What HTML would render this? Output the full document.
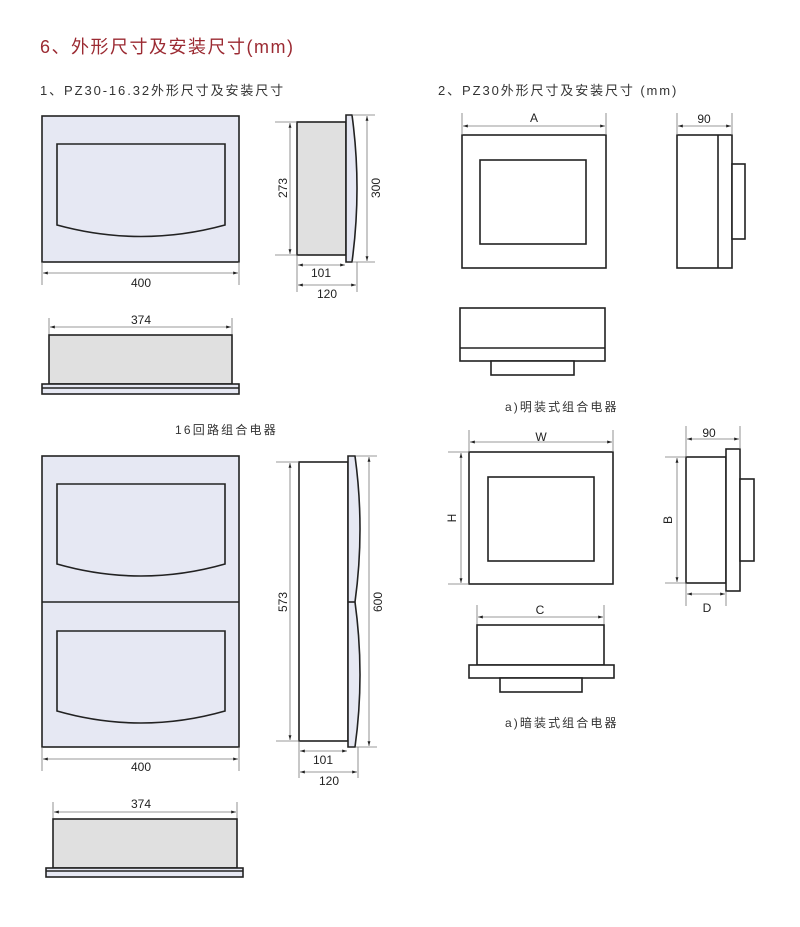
<!DOCTYPE html>
<html><head><meta charset="utf-8"><style>
html,body{margin:0;padding:0;background:#fff;width:800px;height:927px;overflow:hidden}
svg{display:block}
.t{font-family:"Liberation Sans","Noto Sans CJK SC",sans-serif;fill:#222}
.d{font-family:"Liberation Sans",sans-serif;font-size:12px;fill:#222;text-anchor:middle}
.dl{stroke:#777;stroke-width:0.8;fill:none}
.o{stroke:#222;stroke-width:1.6}
</style></head><body>
<svg width="800" height="927" viewBox="0 0 800 927" xmlns="http://www.w3.org/2000/svg">
<defs>
<marker id="a" viewBox="0 0 10 10" refX="10" refY="5" markerWidth="6" markerHeight="6" orient="auto-start-reverse"><path d="M0,2 L10,5 L0,8 z" fill="#222"/></marker>
</defs>
<text x="40" y="53" class="t" style="font-size:18px;fill:#9b2a32;letter-spacing:1.5px">6、外形尺寸及安装尺寸(mm)</text>
<text x="40" y="95" class="t" style="font-size:13px;fill:#333;letter-spacing:1.9px">1、PZ30-16.32外形尺寸及安装尺寸</text>
<text x="438" y="95" class="t" style="font-size:13px;fill:#333;letter-spacing:1.9px">2、PZ30外形尺寸及安装尺寸 (mm)</text>
<text x="175" y="434" class="t" style="font-size:12px;fill:#333;letter-spacing:2.2px">16回路组合电器</text>
<text x="505" y="411" class="t" style="font-size:12px;fill:#333;letter-spacing:2.1px">a)明装式组合电器</text>
<text x="505" y="727" class="t" style="font-size:12px;fill:#333;letter-spacing:2.1px">a)暗装式组合电器</text>

<!-- Set 1 front -->
<rect x="42" y="116" width="197" height="146" fill="#e6e8f3" class="o"/>
<path d="M57,144 H225 V225 Q141,248 57,225 Z" fill="#e6e8f3" class="o"/>
<line x1="42" y1="262" x2="42" y2="285" class="dl"/><line x1="239" y1="262" x2="239" y2="285" class="dl"/>
<line x1="43" y1="273" x2="238" y2="273" class="dl" marker-start="url(#a)" marker-end="url(#a)"/>
<text x="141" y="287" class="d">400</text>
<!-- Set 1 side -->
<rect x="297" y="122" width="49" height="133" fill="#e0e0e0" class="o"/>
<path d="M346,115 H352 Q362,188 352,262 H346 Z" fill="#e6e8f3" class="o"/>
<line x1="275" y1="122" x2="297" y2="122" class="dl"/><line x1="275" y1="255" x2="297" y2="255" class="dl"/>
<line x1="290" y1="123" x2="290" y2="254" class="dl" marker-start="url(#a)" marker-end="url(#a)"/>
<text transform="translate(287,188) rotate(-90)" class="d">273</text>
<line x1="352" y1="115" x2="375" y2="115" class="dl"/><line x1="352" y1="262" x2="375" y2="262" class="dl"/>
<line x1="367" y1="116" x2="367" y2="261" class="dl" marker-start="url(#a)" marker-end="url(#a)"/>
<text transform="translate(380,188) rotate(-90)" class="d">300</text>
<line x1="297" y1="255" x2="297" y2="292" class="dl"/><line x1="357" y1="262" x2="357" y2="292" class="dl"/>
<line x1="298" y1="265" x2="345" y2="265" class="dl" marker-start="url(#a)" marker-end="url(#a)"/>
<text x="321" y="277" class="d">101</text>
<line x1="298" y1="285" x2="356" y2="285" class="dl" marker-start="url(#a)" marker-end="url(#a)"/>
<text x="327" y="298" class="d">120</text>
<!-- Set 1 top -->
<line x1="49" y1="318" x2="49" y2="335" class="dl"/><line x1="232" y1="318" x2="232" y2="335" class="dl"/>
<line x1="50" y1="327" x2="231" y2="327" class="dl" marker-start="url(#a)" marker-end="url(#a)"/>
<text x="141" y="324" class="d">374</text>
<rect x="49" y="335" width="183" height="49" fill="#e0e0e0" class="o"/>
<rect x="42" y="384" width="197" height="10" fill="#e6e8f3" class="o"/>
<line x1="42" y1="388" x2="239" y2="388" class="o"/>

<!-- Set 2 front -->
<rect x="42" y="456" width="197" height="291" fill="#e6e8f3" class="o"/>
<line x1="42" y1="602" x2="239" y2="602" class="o"/>
<path d="M57,484 H225 V564 Q141,588 57,564 Z" fill="#e6e8f3" class="o"/>
<path d="M57,631 H225 V711 Q141,735 57,711 Z" fill="#e6e8f3" class="o"/>
<line x1="42" y1="747" x2="42" y2="771" class="dl"/><line x1="239" y1="747" x2="239" y2="771" class="dl"/>
<line x1="43" y1="759" x2="238" y2="759" class="dl" marker-start="url(#a)" marker-end="url(#a)"/>
<text x="141" y="771" class="d">400</text>
<!-- Set 2 side -->
<rect x="299" y="462" width="49" height="279" fill="#fff" class="o"/>
<path d="M348,456 H355 Q365,529 355,602 Q365,675 355,747 H348 Z" fill="#e6e8f3" class="o"/>
<line x1="348" y1="602" x2="355" y2="602" class="o"/>
<line x1="276" y1="462" x2="299" y2="462" class="dl"/><line x1="276" y1="741" x2="299" y2="741" class="dl"/>
<line x1="290" y1="463" x2="290" y2="740" class="dl" marker-start="url(#a)" marker-end="url(#a)"/>
<text transform="translate(287,602) rotate(-90)" class="d">573</text>
<line x1="356" y1="456" x2="377" y2="456" class="dl"/><line x1="356" y1="747" x2="377" y2="747" class="dl"/>
<line x1="369" y1="457" x2="369" y2="746" class="dl" marker-start="url(#a)" marker-end="url(#a)"/>
<text transform="translate(382,602) rotate(-90)" class="d">600</text>
<line x1="299" y1="741" x2="299" y2="778" class="dl"/><line x1="358" y1="747" x2="358" y2="778" class="dl"/>
<line x1="300" y1="751" x2="347" y2="751" class="dl" marker-start="url(#a)" marker-end="url(#a)"/>
<text x="323" y="764" class="d">101</text>
<line x1="300" y1="772" x2="357" y2="772" class="dl" marker-start="url(#a)" marker-end="url(#a)"/>
<text x="329" y="785" class="d">120</text>
<!-- Set 2 top -->
<line x1="53" y1="802" x2="53" y2="819" class="dl"/><line x1="237" y1="802" x2="237" y2="819" class="dl"/>
<line x1="54" y1="812" x2="236" y2="812" class="dl" marker-start="url(#a)" marker-end="url(#a)"/>
<text x="141" y="808" class="d">374</text>
<rect x="53" y="819" width="184" height="49" fill="#e0e0e0" class="o"/>
<rect x="46" y="868" width="197" height="9" fill="#e6e8f3" class="o"/>
<line x1="46" y1="871" x2="243" y2="871" class="o"/>

<!-- Right: surface mount -->
<rect x="462" y="135" width="144" height="133" fill="#fff" class="o"/>
<rect x="480" y="160" width="106" height="84" fill="#fff" class="o"/>
<line x1="462" y1="113" x2="462" y2="135" class="dl"/><line x1="606" y1="113" x2="606" y2="135" class="dl"/>
<line x1="463" y1="126" x2="605" y2="126" class="dl" marker-start="url(#a)" marker-end="url(#a)"/>
<text x="534" y="122" class="d">A</text>
<rect x="677" y="135" width="55" height="133" fill="#fff" class="o"/>
<line x1="718" y1="135" x2="718" y2="268" class="o"/>
<rect x="732" y="164" width="13" height="75" fill="#fff" class="o"/>
<line x1="677" y1="113" x2="677" y2="135" class="dl"/><line x1="732" y1="113" x2="732" y2="135" class="dl"/>
<line x1="678" y1="126" x2="731" y2="126" class="dl" marker-start="url(#a)" marker-end="url(#a)"/>
<text x="704" y="123" class="d">90</text>
<rect x="460" y="308" width="145" height="53" fill="#fff" class="o"/>
<line x1="460" y1="348" x2="605" y2="348" class="o"/>
<rect x="491" y="361" width="83" height="14" fill="#fff" class="o"/>

<!-- Right: flush mount -->
<rect x="469" y="452" width="144" height="132" fill="#fff" class="o"/>
<rect x="488" y="477" width="106" height="84" fill="#fff" class="o"/>
<line x1="469" y1="430" x2="469" y2="452" class="dl"/><line x1="613" y1="430" x2="613" y2="452" class="dl"/>
<line x1="470" y1="442" x2="612" y2="442" class="dl" marker-start="url(#a)" marker-end="url(#a)"/>
<text x="541" y="441" class="d">W</text>
<line x1="448" y1="452" x2="469" y2="452" class="dl"/><line x1="448" y1="584" x2="469" y2="584" class="dl"/>
<line x1="461" y1="453" x2="461" y2="583" class="dl" marker-start="url(#a)" marker-end="url(#a)"/>
<text transform="translate(456,518) rotate(-90)" class="d">H</text>
<rect x="686" y="457" width="40" height="126" fill="#fff" class="o"/>
<rect x="726" y="449" width="14" height="142" fill="#fff" class="o"/>
<rect x="740" y="479" width="14" height="82" fill="#fff" class="o"/>
<line x1="686" y1="426" x2="686" y2="457" class="dl"/><line x1="740" y1="426" x2="740" y2="449" class="dl"/>
<line x1="687" y1="439" x2="739" y2="439" class="dl" marker-start="url(#a)" marker-end="url(#a)"/>
<text x="709" y="437" class="d">90</text>
<line x1="665" y1="457" x2="686" y2="457" class="dl"/><line x1="665" y1="583" x2="686" y2="583" class="dl"/>
<line x1="677" y1="458" x2="677" y2="582" class="dl" marker-start="url(#a)" marker-end="url(#a)"/>
<text transform="translate(672,520) rotate(-90)" class="d">B</text>
<line x1="686" y1="583" x2="686" y2="606" class="dl"/><line x1="726" y1="591" x2="726" y2="606" class="dl"/>
<line x1="687" y1="594" x2="725" y2="594" class="dl" marker-start="url(#a)" marker-end="url(#a)"/>
<text x="707" y="612" class="d">D</text>
<line x1="477" y1="605" x2="477" y2="625" class="dl"/><line x1="604" y1="605" x2="604" y2="625" class="dl"/>
<line x1="478" y1="617" x2="603" y2="617" class="dl" marker-start="url(#a)" marker-end="url(#a)"/>
<text x="540" y="614" class="d">C</text>
<rect x="477" y="625" width="127" height="40" fill="#fff" class="o"/>
<rect x="469" y="665" width="145" height="13" fill="#fff" class="o"/>
<rect x="500" y="678" width="82" height="14" fill="#fff" class="o"/>
</svg>
</body></html>
